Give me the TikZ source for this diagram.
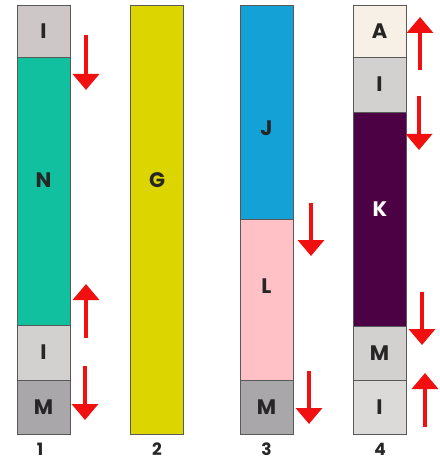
\documentclass[tikz,border=0pt]{standalone}
\usepackage{fontspec}
\setmainfont{Poppins}
\usetikzlibrary{arrows.meta}
\definecolor{cI}{HTML}{CDC7C8}
\definecolor{cIb}{HTML}{D3D0D0}
\definecolor{cN}{HTML}{10C09E}
\definecolor{cG}{HTML}{DDD500}
\definecolor{cJ}{HTML}{14A2D6}
\definecolor{cL}{HTML}{FFC0C6}
\definecolor{cM}{HTML}{A9A7A9}
\definecolor{cA}{HTML}{F6F0E6}
\definecolor{cK}{HTML}{4B0144}
\definecolor{cArr}{HTML}{F01010}
\begin{document}
\begin{tikzpicture}[x=1pt,y=-1pt,
  box/.style={draw=black!65, line width=0.7pt, minimum width=53pt, inner sep=0pt, anchor=north west, outer sep=0pt},
  lbl/.style={font=\bfseries\fontsize{21}{21}\selectfont, text=black!85, inner sep=0pt},
  num/.style={font=\bfseries\fontsize{17}{17}\selectfont, text=black!85, inner sep=0pt},
  arr/.style={draw=cArr, line width=3.6pt, -{Triangle[width=26pt,length=16pt]}, shorten >=0pt}]
\useasboundingbox (0,0) rectangle (439,462);
% column 1
\node[box, fill=cI, minimum height=52pt] (c1i) at (17,5) {};
\node[box, fill=cN, minimum height=268pt] (c1n) at (17,57) {};
\node[box, fill=cIb, minimum height=55pt] (c1i2) at (17,325) {};
\node[box, fill=cM, minimum height=54pt] (c1m) at (17,380) {};
\node[lbl] (t1i) at (c1i.center) {I};
\node[lbl] (t1n) at (43.5,180) {N};
\node[lbl] (t1i2) at (c1i2.center) {I};
\node[lbl] (t1m) at (c1m.center) {M};
\node[num] (n1) at (40,449) {1};
% column 2
\node[box, fill=cG, minimum height=429pt] (c2g) at (130,5) {};
\node[lbl] (t2g) at (157,180) {G};
\node[num] (n2) at (157,449) {2};
% column 3
\node[box, fill=cJ, minimum height=214pt] (c3j) at (240,5) {};
\node[box, fill=cL, minimum height=161pt] (c3l) at (240,219) {};
\node[box, fill=cM, minimum height=54pt] (c3m) at (240,380) {};
\node[lbl] (t3j) at (266.5,128) {J};
\node[lbl] (t3l) at (266.5,286) {L};
\node[lbl] (t3m) at (c3m.center) {M};
\node[num] (n3) at (266.5,449) {3};
% column 4
\node[box, fill=cA, minimum height=52pt] (c4a) at (353,5) {};
\node[box, fill=cIb, minimum height=55pt] (c4i) at (353,57) {};
\node[box, fill=cK, minimum height=214pt] (c4k) at (353,112) {};
\node[box, fill=cIb, minimum height=54pt] (c4m) at (353,326) {};
\node[box, fill=cIb!80!white, minimum height=54pt] (c4i2) at (353,380) {};
\node[lbl] (t4a) at (c4a.center) {A};
\node[lbl] (t4i) at (c4i.center) {I};
\node[lbl, text=white] (t4k) at (380,209) {K};
\node[lbl] (t4m) at (c4m.center) {M};
\node[lbl] (t4i2) at (c4i2.center) {I};
\node[num] (n4) at (380,449) {4};
% arrows
\coordinate (a1s) at (86,35);  \coordinate (a1e) at (86,90);
\coordinate (a2s) at (86,338); \coordinate (a2e) at (86,284);
\coordinate (a3s) at (85,366); \coordinate (a3e) at (85,420);
\coordinate (a4s) at (311,203); \coordinate (a4e) at (311,256);
\coordinate (a5s) at (309,371); \coordinate (a5e) at (309,424);
\coordinate (a6s) at (420,70); \coordinate (a6e) at (420,17);
\coordinate (a7s) at (419,96); \coordinate (a7e) at (419,150);
\coordinate (a8s) at (422,292); \coordinate (a8e) at (422,345);
\coordinate (a9s) at (425,427); \coordinate (a9e) at (425,373);
\foreach \i in {1,...,9} {\draw[arr] (a\i s) -- (a\i e);}
\end{tikzpicture}
\end{document}
